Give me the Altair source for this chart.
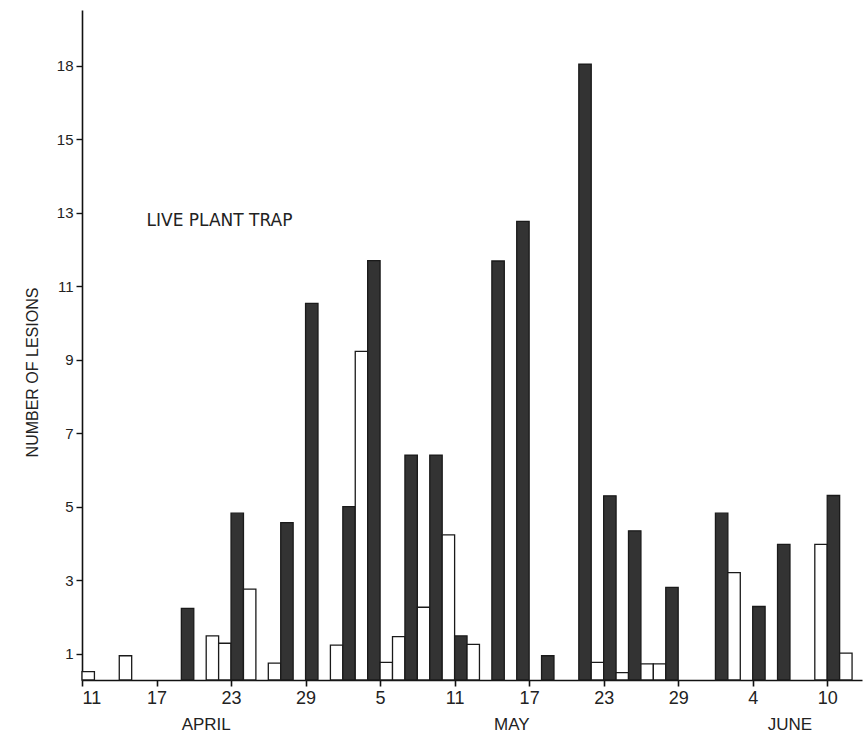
import altair as alt
import pandas as pd

# Day index counted from April 11 (0) ; one bar per day
days = [0, 3, 8, 10, 11, 12, 13, 15, 16, 18, 20, 21, 22, 23, 24, 25, 26, 27, 28, 29,
        30, 31, 33, 35, 37, 40, 41, 42, 43, 44, 45, 46, 47, 51, 52, 54, 56, 59, 60, 61]
lesions = [0.52, 0.95, 2.24, 1.49, 1.29, 4.83, 2.76, 0.75, 4.57, 10.54, 1.24, 5.01, 9.23, 11.70,
           0.77, 1.47, 6.41, 2.27, 6.41, 4.24, 1.49, 1.26, 11.69, 12.77, 0.95, 17.05, 0.77, 5.30,
           0.49, 4.35, 0.73, 0.73, 2.81, 4.83, 3.21, 2.29, 3.98, 3.98, 5.31, 1.02]
kind = ["open", "open", "solid", "open", "open", "solid", "open", "open", "solid", "solid",
        "open", "solid", "open", "solid", "open", "open", "solid", "open", "solid", "open",
        "solid", "open", "solid", "solid", "solid", "solid", "open", "solid", "open", "solid",
        "open", "open", "solid", "solid", "open", "solid", "solid", "open", "solid", "open"]

x_tick_values = [0, 6, 12, 18, 24, 30, 36, 42, 48, 54, 60]
x_tick_labels = ["11", "17", "23", "29", "5", "11", "17", "23", "29", "4", "10"]
y_tick_values = [1, 3, 5, 7, 9, 11, 13, 15, 17]
y_tick_labels = ["1", "3", "5", "7", "9", "11", "13", "15", "18"]

month_names = ["APRIL", "MAY", "JUNE"]
month_pos = [10, 34.6, 57]

annotation = ["LIVE PLANT TRAP"]
annotation_day = [5.2]
annotation_val = [12.78]

W, H = 780, 670
X_DOMAIN = [0, 62.8]
Y_DOMAIN = [0.29, 18.52]

bars = pd.DataFrame({"day": days, "lesions": lesions, "kind": kind})
months = pd.DataFrame({"month": month_names, "pos": month_pos})
ann = pd.DataFrame({"text": annotation, "day": annotation_day, "val": annotation_val})

xlab_expr = "[" + ",".join("'%s'" % s for s in x_tick_labels) + "][round(datum.value/6)]"
ylab_map = "{" + ",".join("'%d':'%s'" % (v, l) for v, l in zip(y_tick_values, y_tick_labels)) + "}"
ylab_expr = ylab_map + "[datum.value]"

xscale = alt.Scale(domain=X_DOMAIN, nice=False, zero=False)
yscale = alt.Scale(domain=Y_DOMAIN, nice=False, zero=False)

NARROW = "Liberation Sans Narrow, Liberation Sans, Arial"
REGULAR = "Liberation Sans, Arial"

bar_layer = alt.Chart(bars).transform_calculate(
    day_end="datum.day + 1"
).mark_bar(strokeWidth=1.3, stroke="#1a1a1a").encode(
    x=alt.X("day:Q", scale=xscale,
            axis=alt.Axis(values=x_tick_values, labelExpr=xlab_expr, title=None, grid=False,
                          domainColor="#111", domainWidth=1.6, tickColor="#111", tickWidth=1.6,
                          tickSize=6, labelFontSize=18, labelColor="#222",
                          labelFont=NARROW, labelPadding=3)),
    x2="day_end:Q",
    y=alt.Y("lesions:Q", scale=yscale,
            axis=alt.Axis(values=y_tick_values, labelExpr=ylab_expr, title="NUMBER OF LESIONS",
                          grid=False, domainColor="#111", domainWidth=1.6, tickColor="#111",
                          tickWidth=1.4, tickSize=6, labelFontSize=15, labelColor="#222",
                          labelFont=REGULAR, labelPadding=3,
                          titleFont=NARROW,
                          titleFontSize=16, titleFontWeight="normal", titleColor="#222",
                          titleX=-45, titleY=362, titleAngle=-90, titleBaseline="alphabetic",
                          titleAlign="center")),
    y2=alt.datum(Y_DOMAIN[0]),
    fill=alt.Fill("kind:N", scale=alt.Scale(domain=["open", "solid"], range=["#ffffff", "#333333"]),
                  legend=None),
)

month_layer = alt.Chart(months).mark_text(
    fontSize=17, color="#222", baseline="alphabetic", font=REGULAR
).encode(
    x=alt.X("pos:Q", scale=xscale),
    y=alt.value(H + 50),
    text="month:N",
)

ann_layer = alt.Chart(ann).mark_text(
    fontSize=17, color="#222", align="left", baseline="middle",
    font="DejaVu Sans, Liberation Sans, Arial"
).encode(
    x=alt.X("day:Q", scale=xscale),
    y=alt.Y("val:Q", scale=yscale),
    text="text:N",
)

chart = alt.layer(bar_layer, month_layer, ann_layer).properties(
    width=W, height=H,
    autosize=alt.AutoSizeParams(type="none"),
    padding={"left": 82, "top": 10, "right": 3, "bottom": 56},
    background="white",
).configure_view(stroke=None)

chart.save("out.html", embed_options={"renderer": "svg", "actions": False})
